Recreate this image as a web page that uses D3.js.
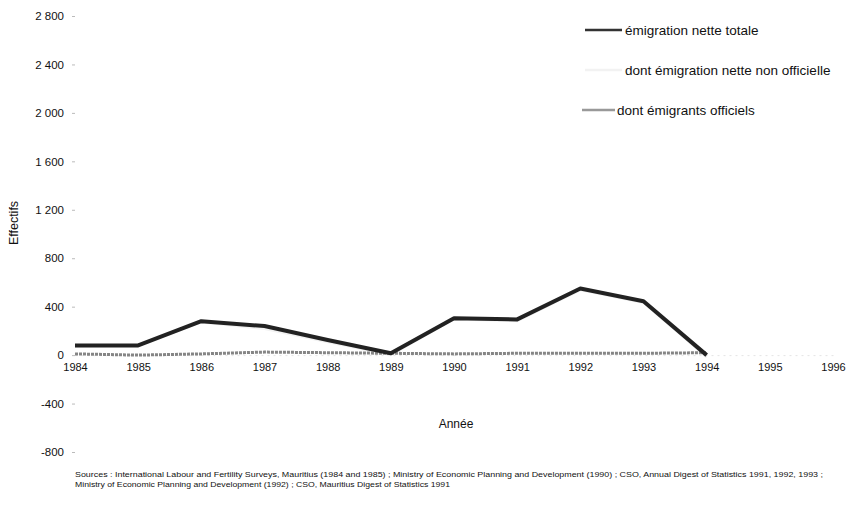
<!DOCTYPE html>
<html>
<head>
<meta charset="utf-8">
<script src="https://cdn.jsdelivr.net/npm/d3@7"></script>
<style>
  html, body { margin: 0; padding: 0; background: #fff; }
  svg { display: block; font-family: "Liberation Sans", Arial, sans-serif; }
</style>
</head>
<body>
<svg id="chart" width="848" height="506"></svg>
<script>
// Émigration nette, 1984-1994 (effectifs)
const years = [1984, 1985, 1986, 1987, 1988, 1989, 1990, 1991, 1992, 1993, 1994];
const totalNet = [80, 80, 280, 240, 125, 15, 305, 295, 550, 445, 0];
const officialEmigrants = [10, 0, 10, 25, 20, 15, 10, 15, 15, 15, 20];
const unofficialNet = totalNet.map((v, i) => v - officialEmigrants[i]);

const xTickYears = d3.range(1984, 1997);
const yTickValues = [-800, -400, 0, 400, 800, 1200, 1600, 2000, 2400, 2800];

const legendLabels = [
  "émigration nette totale",
  "dont émigration nette non officielle",
  "dont émigrants officiels"
];
const sourceLines = [
  "Sources : International Labour and Fertility Surveys, Mauritius (1984 and 1985) ; Ministry of Economic Planning and Development (1990) ; CSO, Annual Digest of Statistics 1991, 1992, 1993 ;",
  "Ministry of Economic Planning and Development (1992) ; CSO, Mauritius Digest of Statistics 1991"
];

const svg = d3.select("#chart");

const x = d3.scaleLinear().domain([1984, 1996]).range([75, 833]);
const y = d3.scaleLinear().domain([-800, 2800]).range([452, 16]);

// Y axis: labels right-aligned with small ticks
const yAxis = d3.axisLeft(y)
  .tickValues(yTickValues)
  .tickSize(3)
  .tickPadding(8)
  .tickFormat(d => d3.format(",")(d).replace(/,/g, " ").replace("−", "-"));
const gy = svg.append("g").attr("transform", "translate(75,0)").call(yAxis);
gy.select(".domain").remove();
gy.selectAll(".tick line").attr("stroke", "#bbb");
gy.selectAll(".tick text").attr("font-size", 11.5).attr("fill", "#111");

// X axis placed on zero line
const xAxis = d3.axisBottom(x)
  .tickValues(xTickYears)
  .tickFormat(d3.format("d"))
  .tickSize(0)
  .tickPadding(8);
const gx = svg.append("g").attr("transform", `translate(0,${y(0)})`).call(xAxis);
gx.select(".domain").attr("stroke", "#e4e4e4").attr("stroke-dasharray", "2,4");
gx.selectAll(".tick text").attr("font-size", 11).attr("fill", "#111");

// Axis titles
svg.append("text")
  .attr("transform", `translate(18,223) rotate(-90)`)
  .attr("text-anchor", "middle")
  .attr("font-size", 12.5)
  .attr("fill", "#111")
  .text("Effectifs");
svg.append("text")
  .attr("x", 456).attr("y", 428)
  .attr("text-anchor", "middle")
  .attr("font-size", 12)
  .attr("fill", "#111")
  .text("Année");

const line = d3.line()
  .x((d, i) => x(years[i]))
  .y(d => y(d));

// Series (non-official drawn first, beneath total)
svg.append("path").datum(unofficialNet)
  .attr("d", line).attr("fill", "none")
  .attr("stroke", "#f2f2f2").attr("stroke-width", 2);
svg.append("path").datum(officialEmigrants)
  .attr("d", line).attr("fill", "none")
  .attr("stroke", "#858585").attr("stroke-width", 3)
  .attr("stroke-dasharray", "3,1");
svg.append("path").datum(totalNet)
  .attr("d", line).attr("fill", "none")
  .attr("stroke", "#222").attr("stroke-width", 4)
  .attr("stroke-linejoin", "round");

// Legend
const legend = [
  { label: legendLabels[0], color: "#333", x1: 585, x2: 622, tx: 625, y: 30 },
  { label: legendLabels[1], color: "#f2f2f2", x1: 585, x2: 622, tx: 625, y: 70 },
  { label: legendLabels[2], color: "#999", x1: 582, x2: 615, tx: 617, y: 110 }
];
const lg = svg.append("g").selectAll("g").data(legend).join("g");
lg.append("line")
  .attr("x1", d => d.x1).attr("x2", d => d.x2)
  .attr("y1", d => d.y).attr("y2", d => d.y)
  .attr("stroke", d => d.color).attr("stroke-width", 2.5);
lg.append("text")
  .attr("x", d => d.tx).attr("y", d => d.y + 4.5)
  .attr("font-size", 13.5).attr("fill", "#111")
  .text(d => d.label);

// Sources
const sourceWidths = [748, 375];
svg.append("g").selectAll("text").data(sourceLines).join("text")
  .attr("x", 75).attr("y", (d, i) => 477 + i * 10)
  .attr("font-size", 8).attr("fill", "#111")
  .attr("textLength", (d, i) => sourceWidths[i])
  .attr("lengthAdjust", "spacingAndGlyphs")
  .text(d => d);
</script>
</body>
</html>
